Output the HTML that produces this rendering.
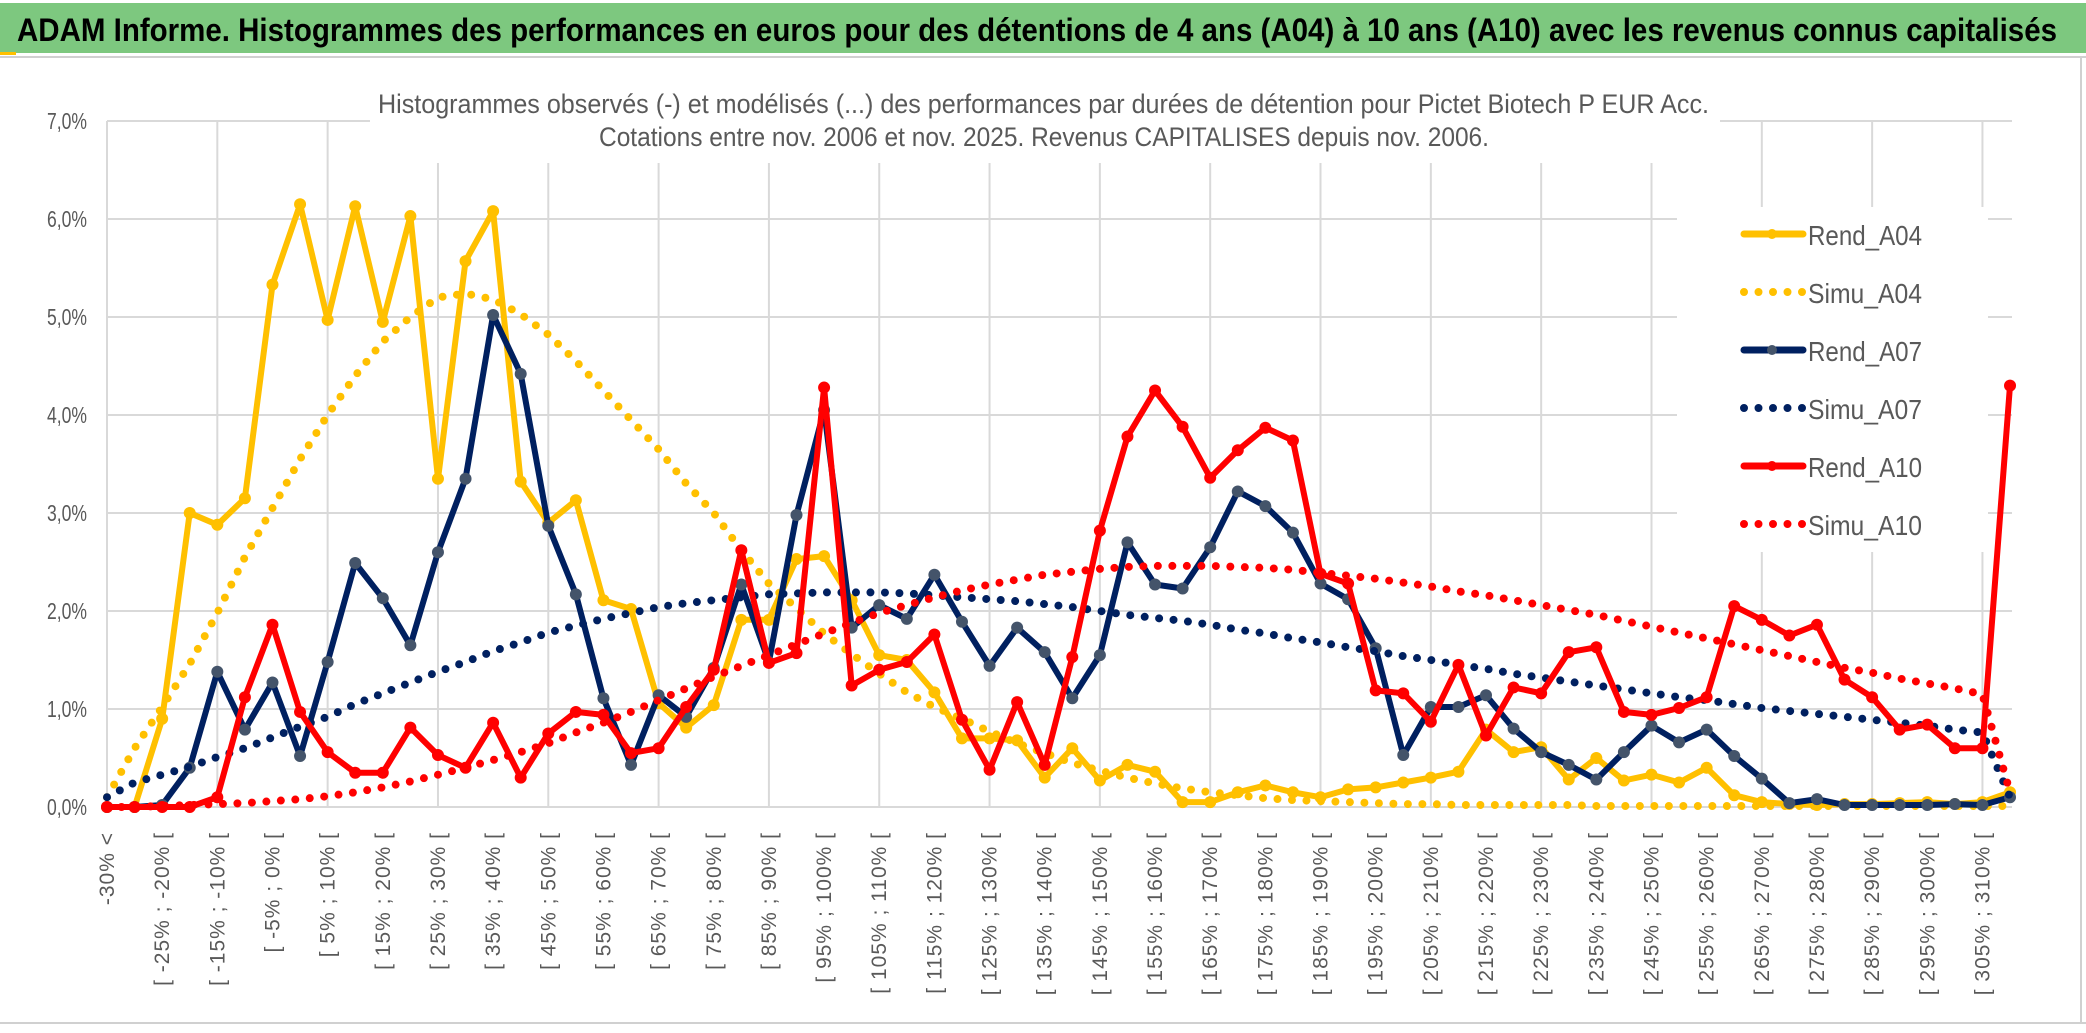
<!DOCTYPE html>
<html><head><meta charset="utf-8"><style>
html,body{margin:0;padding:0;background:#fff;}
svg{display:block;font-family:"Liberation Sans",sans-serif;}
</style></head><body>
<svg id="chart" width="2086" height="1033" viewBox="0 0 2086 1033" xmlns="http://www.w3.org/2000/svg">
<rect x="0" y="0" width="2086" height="1033" fill="#fff"/>
<rect x="0" y="3" width="2086" height="50" fill="#7DC87F"/>
<rect x="0" y="52" width="16" height="3" fill="#FFC000"/>
<line x1="0" y1="57" x2="2086" y2="57" stroke="#d0d0d0" stroke-width="2"/>
<text x="17" y="41" font-size="32" font-weight="bold" fill="#000" textLength="2040" lengthAdjust="spacingAndGlyphs">ADAM Informe. Histogrammes des performances en euros pour des détentions de 4 ans (A04) à 10 ans (A10) avec les revenus connus capitalisés</text>
<line x1="2081" y1="57" x2="2081" y2="1023" stroke="#d0d0d0" stroke-width="2"/>
<line x1="0" y1="1023" x2="2086" y2="1023" stroke="#d0d0d0" stroke-width="2"/>
<g id="grid"></g>
<rect x="370" y="85" width="1350" height="78" fill="#fff"/>
<text x="378" y="113" font-size="27" fill="#595959" textLength="1331" lengthAdjust="spacingAndGlyphs">Histogrammes observés (-) et modélisés (...) des performances par durées de détention pour Pictet Biotech P EUR Acc.</text>
<text x="599" y="146" font-size="27" fill="#595959" textLength="890" lengthAdjust="spacingAndGlyphs">Cotations entre nov. 2006 et nov. 2025. Revenus CAPITALISES depuis nov. 2006.</text>
<g id="yaxis"></g>
<g id="xaxis"></g>
<g id="legend"></g>
<g id="series"></g>
</svg>
<script>
const rendA04 = [0,0,0.9,3.0,2.88,3.15,5.33,6.15,4.97,6.13,4.95,6.03,3.35,5.57,6.08,3.32,2.9,3.13,2.11,2.02,1.06,0.81,1.04,1.91,1.91,2.53,2.56,2.11,1.55,1.5,1.17,0.7,0.7,0.68,0.3,0.6,0.27,0.43,0.36,0.05,0.05,0.15,0.22,0.15,0.1,0.18,0.2,0.25,0.3,0.36,0.79,0.56,0.61,0.28,0.5,0.27,0.33,0.25,0.4,0.12,0.05,0.03,0.02,0.03,0.03,0.04,0.05,0.03,0.05,0.15];
const simuA04 = [0.1,0.6,1.02,1.46,1.98,2.55,3.05,3.55,4.0,4.4,4.75,5.0,5.2,5.24,5.18,5.03,4.82,4.55,4.25,3.95,3.65,3.3,3.0,2.62,2.28,2.03,1.77,1.56,1.36,1.17,1.02,0.9,0.77,0.65,0.55,0.45,0.37,0.3,0.24,0.19,0.15,0.12,0.09,0.07,0.06,0.05,0.04,0.03,0.03,0.02,0.02,0.02,0.02,0.02,0.01,0.01,0.01,0.01,0.01,0.01,0.01,0.01,0.01,0.01,0.01,0.01,0.01,0.01,0.01,0.01];
const rendA07 = [0,0,0.02,0.4,1.38,0.79,1.27,0.52,1.48,2.49,2.13,1.65,2.6,3.35,5.02,4.42,2.87,2.17,1.11,0.43,1.14,0.92,1.42,2.27,1.48,2.98,4.05,1.83,2.06,1.92,2.37,1.89,1.44,1.83,1.58,1.11,1.55,2.7,2.27,2.23,2.65,3.22,3.07,2.8,2.28,2.12,1.62,0.53,1.02,1.02,1.14,0.8,0.56,0.43,0.28,0.56,0.83,0.66,0.79,0.52,0.29,0.04,0.08,0.02,0.02,0.02,0.02,0.03,0.02,0.1];
const simuA07 = [0.1,0.25,0.33,0.41,0.51,0.6,0.71,0.82,0.92,1.05,1.16,1.27,1.38,1.48,1.59,1.68,1.78,1.85,1.92,1.98,2.04,2.08,2.11,2.14,2.17,2.18,2.19,2.19,2.19,2.18,2.16,2.14,2.12,2.1,2.07,2.04,2.0,1.96,1.93,1.9,1.86,1.81,1.77,1.72,1.68,1.63,1.59,1.54,1.5,1.45,1.41,1.36,1.32,1.28,1.24,1.2,1.16,1.12,1.09,1.05,1.01,0.98,0.95,0.92,0.89,0.86,0.83,0.79,0.76,0.1];
const rendA10 = [0,0,0,0,0.1,1.12,1.86,0.97,0.56,0.35,0.35,0.81,0.53,0.4,0.86,0.3,0.75,0.97,0.94,0.55,0.6,1.02,1.4,2.62,1.47,1.57,4.28,1.24,1.4,1.48,1.76,0.89,0.38,1.07,0.43,1.53,2.82,3.78,4.25,3.88,3.36,3.64,3.87,3.74,2.38,2.28,1.19,1.16,0.87,1.45,0.73,1.22,1.16,1.58,1.63,0.97,0.94,1.01,1.12,2.05,1.91,1.75,1.86,1.3,1.12,0.79,0.84,0.6,0.6,4.3];
const simuA10 = [0,0,0.01,0.02,0.03,0.04,0.06,0.08,0.11,0.15,0.2,0.26,0.33,0.4,0.48,0.56,0.65,0.76,0.86,0.97,1.09,1.21,1.33,1.44,1.55,1.66,1.77,1.88,1.98,2.06,2.14,2.21,2.27,2.32,2.37,2.4,2.43,2.45,2.46,2.46,2.46,2.45,2.44,2.42,2.39,2.36,2.33,2.29,2.25,2.2,2.16,2.11,2.06,2.01,1.96,1.9,1.84,1.78,1.72,1.66,1.6,1.54,1.48,1.42,1.37,1.31,1.26,1.21,1.15,0.15];
const yTicks = [0,1,2,3,4,5,6,7];
const yTickLabels = ["0,0%","1,0%","2,0%","3,0%","4,0%","5,0%","6,0%","7,0%"];
const seriesNames = ["Rend_A04","Simu_A04","Rend_A07","Simu_A07","Rend_A10","Simu_A10"];

const NS = "http://www.w3.org/2000/svg";
const X0 = 107, DX = 27.58, Y0 = 807, DY = 98;
const N = rendA04.length;
function xs(i){ return X0 + i*DX; }
function ys(v){ return Y0 - v*DY; }
function mk(tag, attrs, parent){
  const e = document.createElementNS(NS, tag);
  for (const k in attrs) e.setAttribute(k, attrs[k]);
  parent.appendChild(e);
  return e;
}
function catLabel(i){
  if (i === 0) return "-30% <";
  if (i === N-1) return "> 310%";
  const a = -35 + 5*i;
  return "[ " + a + "% ; " + (a+5) + "% [";
}
const grid = document.getElementById('grid');
yTicks.forEach(t => {
  const l = mk('line', {x1: X0, x2: 2012, y1: ys(t), y2: ys(t), stroke: '#d9d9d9', 'stroke-width': 2}, grid);
  
  
});
for (let i = 0; i < N; i += 4) {
  const l = mk('line', {x1: xs(i), x2: xs(i), y1: ys(7), y2: ys(0), stroke: '#d9d9d9', 'stroke-width': 2}, grid);
  
  
}
const yaxis = document.getElementById('yaxis');
yTicks.forEach((t, k) => {
  const tx = mk('text', {x: 87, y: ys(t) + 8, 'font-size': 23, fill: '#595959', 'text-anchor': 'end', textLength: 40, lengthAdjust: 'spacingAndGlyphs'}, yaxis);
  tx.textContent = yTickLabels[k];
  
  
});
const xaxis = document.getElementById('xaxis');
for (let i = 0; i < N; i += 2) {
  const x = xs(i) + 7, y = 832;
  const tx = mk('text', {x: x, y: y, 'font-size': 21, fill: '#595959', 'text-anchor': 'end', 'letter-spacing': 1, transform: 'rotate(-90 ' + x + ' ' + y + ')'}, xaxis);
  tx.textContent = catLabel(i);
  
  
}
// legend
const legend = document.getElementById('legend');
mk('rect', {x: 1677, y: 207, width: 311, height: 345, fill: '#fff'}, legend);
const styles = [
  {c: '#FFC000', dot: false, m: '#FFC000'},
  {c: '#FFC000', dot: true},
  {c: '#002060', dot: false, m: '#44546A'},
  {c: '#002060', dot: true},
  {c: '#FF0000', dot: false, m: '#FF0000'},
  {c: '#FF0000', dot: true}
];
seriesNames.forEach((nm, k) => {
  const y = 234 + k*58;
  const g = mk('g', {}, legend);
  
  
  const s = styles[k];
  if (s.dot) {
    mk('line', {x1: 1744, x2: 1805, y1: y, y2: y, stroke: s.c, 'stroke-width': 8, 'stroke-linecap': 'round', 'stroke-dasharray': '0 14.5'}, g);
  } else {
    mk('line', {x1: 1744, x2: 1803, y1: y, y2: y, stroke: s.c, 'stroke-width': 7, 'stroke-linecap': 'round'}, g);
    mk('circle', {cx: 1772, cy: y, r: 5, fill: s.m}, g);
  }
  const tx = mk('text', {x: 1808, y: y + 11, 'font-size': 28, fill: '#595959', textLength: 114, lengthAdjust: 'spacingAndGlyphs'}, g);
  tx.textContent = nm;
});
// series
const seriesLayer = document.getElementById('series');
const allData = [rendA04, simuA04, rendA07, simuA07, rendA10, simuA10];
allData.forEach((arr, k) => {
  const s = styles[k];
  const g = mk('g', {}, seriesLayer);
  
  
  const pts = arr.map((v, i) => xs(i).toFixed(1) + ',' + ys(v).toFixed(1)).join(' ');
  if (s.dot) {
    const p = mk('polyline', {points: pts, fill: 'none', stroke: s.c, 'stroke-width': 8, 'stroke-linecap': 'round', 'stroke-linejoin': 'round', 'stroke-dasharray': '0 14.5'}, g);
    
    
  } else {
    const p = mk('polyline', {points: pts, fill: 'none', stroke: s.c, 'stroke-width': 6, 'stroke-linejoin': 'round', 'stroke-linecap': 'round'}, g);
    
    
    arr.forEach((v, i) => {
      const c = mk('circle', {cx: xs(i), cy: ys(v), r: 6, fill: s.m}, g);
      
      
    });
  }
});
</script>
</body></html>
